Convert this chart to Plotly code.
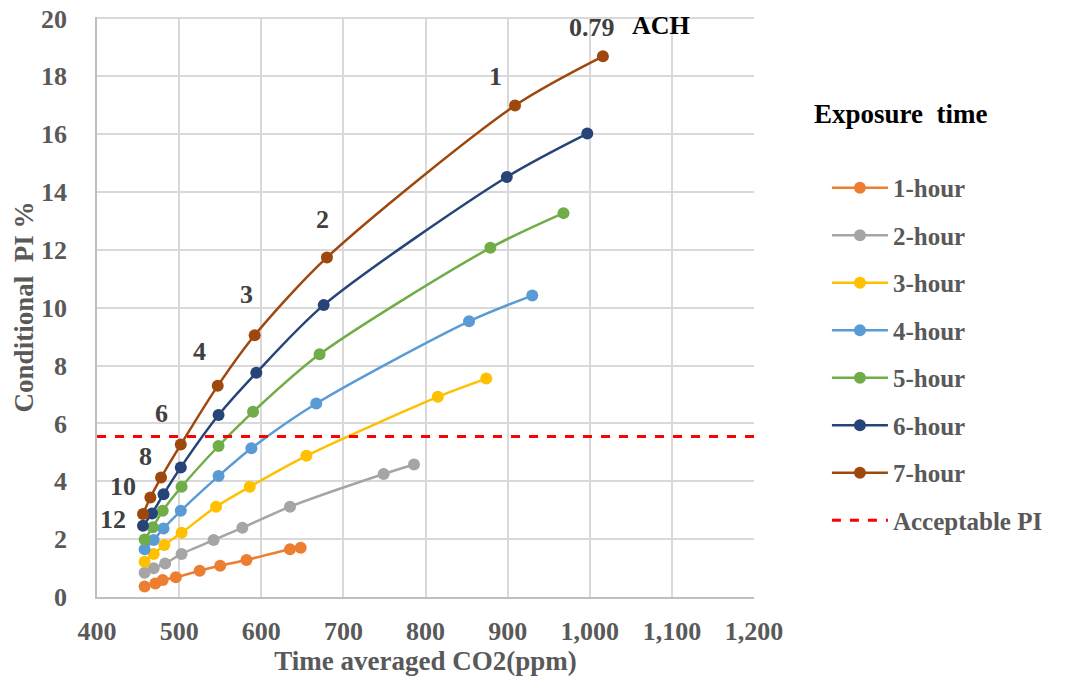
import plotly.graph_objects as go

# ---------------- data ----------------
ach_labels = ["12", "10", "8", "6", "4", "3", "2", "1", "0.79"]

co2_1h = [458, 471, 480, 496, 525, 550, 582, 635, 648]
pi_1h = [0.36, 0.47, 0.59, 0.68, 0.91, 1.08, 1.28, 1.65, 1.70]

co2_2h = [458, 469, 483, 503, 542, 577, 635, 749, 786]
pi_2h = [0.84, 0.99, 1.16, 1.49, 1.97, 2.39, 3.12, 4.25, 4.58]

co2_3h = [458, 469, 482, 503, 545, 586, 655, 815, 874]
pi_3h = [1.22, 1.49, 1.80, 2.22, 3.12, 3.81, 4.88, 6.92, 7.55]

co2_4h = [458, 469, 481, 502, 548, 588, 667, 853, 930]
pi_4h = [1.65, 1.97, 2.37, 2.98, 4.18, 5.14, 6.69, 9.53, 10.42]

co2_5h = [458, 468, 480, 503, 548, 590, 671, 879, 968]
pi_5h = [1.99, 2.41, 2.98, 3.81, 5.22, 6.40, 8.39, 12.07, 13.27]

co2_6h = [456, 467, 481, 502, 548, 594, 676, 899, 997]
pi_6h = [2.46, 2.89, 3.55, 4.48, 6.29, 7.75, 10.09, 14.52, 16.02]

co2_7h = [456, 465, 478, 502, 547, 592, 680, 909, 1016]
pi_7h = [2.87, 3.44, 4.13, 5.27, 7.30, 9.05, 11.74, 16.99, 18.69]

series_names = ["1-hour", "2-hour", "3-hour", "4-hour", "5-hour", "6-hour", "7-hour"]
series_x = [co2_1h, co2_2h, co2_3h, co2_4h, co2_5h, co2_6h, co2_7h]
series_y = [pi_1h, pi_2h, pi_3h, pi_4h, pi_5h, pi_6h, pi_7h]

acceptable_pi = 5.55
x_range = [400, 1200]
y_range = [0, 20.05]

# ---------------- style ----------------
colors = ["#ED7D31", "#A5A5A5", "#FFC000", "#5B9BD5", "#70AD47", "#264478", "#9E480E"]
SERIF = "Liberation Serif, Times New Roman, serif"
GRAY_TXT = "#595959"
LABEL_TXT = "#404040"

fig = go.Figure()

for name, xs, ys, c in zip(series_names, series_x, series_y, colors):
    fig.add_trace(go.Scatter(
        x=xs, y=ys, name=name, mode="lines+markers",
        line=dict(color=c, width=2.5, shape="spline", smoothing=0.8),
        marker=dict(color=c, size=12),
        legendgroup=name,
    ))

fig.add_trace(go.Scatter(
    x=x_range, y=[acceptable_pi, acceptable_pi], name="Acceptable PI",
    mode="lines", line=dict(color="#FF0000", width=3, dash="dash"),
    legendgroup="acc",
))

# ACH labels placed relative to the 7-hour points
label_shifts = [(-30, -6), (-27, 11), (-16, 21), (-19, 31), (-18, 34),
                (-8, 41), (-4, 38), (-20, 29), (-11, 29)]
for lab, xv, yv, (dx, dy) in zip(ach_labels, co2_7h, pi_7h, label_shifts):
    fig.add_annotation(x=xv, y=yv, text=f"<b>{lab}</b>", showarrow=False,
                       xshift=dx, yshift=dy,
                       font=dict(family=SERIF, size=26, color=LABEL_TXT))
fig.add_annotation(x=co2_7h[-1], y=pi_7h[-1], text="<b>ACH</b>", showarrow=False,
                   xshift=58, yshift=31,
                   font=dict(family=SERIF, size=26, color="#000000"))

# legend title as annotation
fig.add_annotation(xref="paper", yref="paper", x=1.088, y=0.8325, xanchor="left",
                   yanchor="middle", text="<b>Exposure  time</b>", showarrow=False,
                   font=dict(family=SERIF, size=27, color="#000000"))

axis_common = dict(
    showgrid=True, gridcolor="#D9D9D9", gridwidth=1.5,
    showline=True, linecolor="#BFBFBF", linewidth=1.5,
    zeroline=False, ticks="", automargin=False, ticklabeloverflow="allow",
    tickfont=dict(family=SERIF, size=26, color=GRAY_TXT, weight="bold"),
)

fig.update_xaxes(range=x_range, dtick=100, tickformat=",d",
                 ticklabelstandoff=10,
                 title=dict(text="<b>Time averaged CO2(ppm)</b>",
                            font=dict(family=SERIF, size=27, color=GRAY_TXT),
                            standoff=0),
                 **axis_common)
fig.update_yaxes(range=y_range, tick0=0, dtick=2, ticklabelstandoff=23,
                 title=dict(text="<b>Conditional  PI %</b>",
                            font=dict(family=SERIF, size=27, color=GRAY_TXT),
                            standoff=0),
                 **axis_common)

fig.update_layout(
    width=1072, height=688,
    margin=dict(l=97, r=318, t=17, b=91),
    plot_bgcolor="white", paper_bgcolor="white",
    font=dict(family=SERIF),
    legend=dict(
        x=1.111, xanchor="left", y=0.745, yanchor="top",
        font=dict(family=SERIF, size=25, color=GRAY_TXT, weight="bold"),
        tracegroupgap=12, itemwidth=56,
        bgcolor="rgba(0,0,0,0)",
    ),
    showlegend=True,
)

# remove the default 8px page margin so the figure sits at the window's corner
fig.write_html("out.html",
               config={"displayModeBar": False},
               post_script="document.body.style.margin='0';")
